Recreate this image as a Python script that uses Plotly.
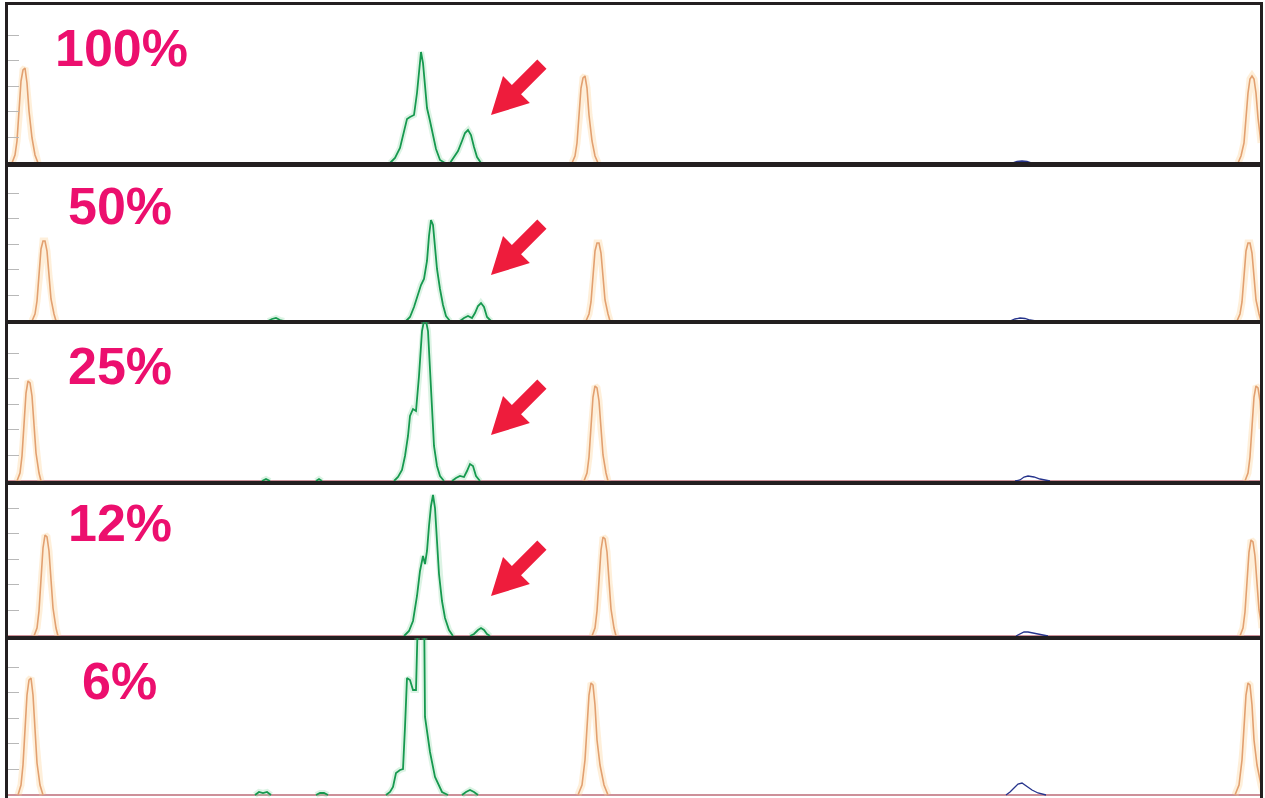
import plotly.graph_objects as go

W, H = 1265, 798

# ---------------- data (x in trace-time units, y = signal height) ----------------
LABELS = ["100%", "50%", "25%", "12%", "6%"]
TICK_HEIGHTS = [25.6, 51.2, 76.8, 102.4, 128.0]

# panel 1 (100%)
P1_ORANGE_X = [12, 15, 17, 19, 21, 23, 25, 27, 29, 32, 35, 38, None,
               572, 575, 577, 579, 581, 583, 585, 587, 589, 592, 595, 598, None,
               1238, 1241, 1244, 1246, 1248, 1250, 1252, 1254, 1256, 1258, 1261]
P1_ORANGE_Y = [0, 8, 22, 50, 82, 93, 95, 80, 52, 25, 8, 0, None,
               0, 7, 20, 45, 75, 85, 87, 75, 48, 22, 7, 0, None,
               0, 7, 20, 45, 70, 84, 87, 84, 70, 45, 20]
P1_GREEN_X = [390, 395, 400, 404, 407, 410, 414, 417, 419, 421, 423, 425, 427, 430, 433, 436, 440, 445, None,
              450, 454, 458, 462, 465, 468, 471, 474, 477, 481]
P1_GREEN_Y = [0, 5, 15, 30, 44, 46, 48, 70, 95, 111, 100, 75, 55, 42, 28, 14, 3, 0, None,
              0, 6, 12, 22, 30, 33, 28, 16, 6, 0]
P1_BLUE_X = [1012, 1017, 1022, 1027, 1032]
P1_BLUE_Y = [0, 1.5, 2, 1.5, 0]

# panel 2 (50%)
P2_ORANGE_X = [32, 35, 37, 39, 41, 43, 45, 47, 49, 51, 54, 56, None,
               586, 589, 591, 593, 595, 597, 599, 601, 603, 605, 608, 610, None,
               1237, 1240, 1242, 1244, 1246, 1248, 1250, 1252, 1254, 1256, 1259, 1261]
P2_ORANGE_Y = [0, 7, 20, 45, 72, 80, 80, 70, 45, 22, 7, 0, None,
               0, 7, 19, 44, 70, 78, 78, 68, 44, 21, 7, 0, None,
               0, 7, 19, 44, 70, 78, 78, 68, 44, 21, 7, 0]
P2_GREEN_X = [268, 272, 276, 280, 284, None,
              406, 410, 414, 418, 421, 424, 427, 429, 431, 433, 435, 437, 440, 443, 446, 450, None,
              460, 464, 468, 472, 475, 478, 481, 484, 487, 491]
P2_GREEN_Y = [0, 2, 3, 1, 0, None,
              0, 4, 14, 28, 36, 42, 60, 85, 101, 96, 72, 52, 32, 16, 5, 0, None,
              0, 3, 5, 3, 8, 15, 18, 14, 4, 0]
P2_BLUE_X = [1010, 1015, 1020, 1025, 1030, 1036]
P2_BLUE_Y = [0, 2, 3, 2.5, 1, 0]

# panel 3 (25%)
P3_ORANGE_X = [17, 20, 22, 24, 26, 28, 30, 32, 34, 36, 39, 41, None,
               584, 587, 589, 591, 593, 595, 597, 599, 601, 603, 606, 608, None,
               1245, 1248, 1250, 1252, 1254, 1256, 1258, 1260, 1262]
P3_ORANGE_Y = [0, 8, 25, 55, 88, 100, 98, 85, 55, 28, 8, 0, None,
               0, 8, 24, 52, 84, 95, 93, 80, 52, 26, 8, 0, None,
               0, 8, 24, 52, 84, 95, 93, 80, 52]
P3_GREEN_X = [262, 266, 270, None, 316, 319, 322, None,
              394, 398, 402, 405, 408, 410, 413, 416, 419, 422, 424, 426, 428, 430, 432, 434, 437, 440, 444, None,
              452, 456, 460, 464, 467, 470, 473, 476, 480]
P3_GREEN_Y = [0, 2, 0, None, 0, 2, 0, None,
              0, 4, 11, 25, 45, 65, 72, 70, 105, 150, 160, 160, 150, 110, 65, 35, 15, 5, 0, None,
              0, 3, 5, 4, 10, 17, 15, 5, 0]
P3_BLUE_X = [1015, 1020, 1024, 1028, 1034, 1040, 1050]
P3_BLUE_Y = [0, 1, 4, 5, 4, 2, 0]

# panel 4 (12%)
P4_ORANGE_X = [34, 37, 39, 41, 43, 45, 47, 49, 51, 53, 56, 58, None,
               592, 595, 597, 599, 601, 603, 605, 607, 609, 611, 614, 616, None,
               1240, 1243, 1245, 1247, 1249, 1251, 1253, 1255, 1257, 1259, 1262]
P4_ORANGE_Y = [0, 8, 25, 55, 88, 101, 99, 85, 55, 28, 8, 0, None,
               0, 8, 25, 54, 86, 99, 97, 84, 54, 27, 8, 0, None,
               0, 8, 24, 52, 84, 96, 94, 80, 52, 26, 8]
P4_GREEN_X = [404, 409, 413, 417, 420, 423, 425, 427, 429, 431, 433, 435, 437, 439, 442, 445, 449, 453, None,
              470, 474, 478, 481, 484, 487, 490]
P4_GREEN_Y = [0, 5, 15, 40, 65, 80, 72, 85, 110, 130, 141, 128, 95, 62, 35, 18, 6, 0, None,
              0, 2, 6, 8, 6, 2, 0]
P4_BLUE_X = [1016, 1020, 1024, 1028, 1034, 1040, 1048]
P4_BLUE_Y = [0, 2, 4, 4, 3, 1.5, 0]

# panel 5 (6%)
P5_ORANGE_X = [18, 21, 23, 25, 27, 29, 31, 33, 35, 37, 40, 43, None,
               578, 582, 585, 587, 589, 591, 593, 595, 597, 600, 604, 608, None,
               1235, 1239, 1242, 1244, 1246, 1248, 1250, 1252, 1254, 1257, 1261, 1264]
P5_ORANGE_Y = [0, 10, 30, 65, 100, 115, 117, 100, 65, 32, 10, 0, None,
               0, 10, 35, 65, 100, 112, 110, 90, 55, 30, 10, 0, None,
               0, 10, 35, 65, 100, 112, 110, 90, 55, 30, 10, 0]
P5_GREEN_X = [255, 259, 263, 267, 271, None, 316, 320, 324, 328, None,
              386, 390, 393, 396, 400, 403, 405, 407, 410, 413, 416, 417, 420, 424, 425, 430, 435, 442, 448, None,
              462, 466, 470, 474, 478]
P5_GREEN_Y = [0, 3, 2, 3, 0, None, 0, 2, 2, 0, None,
              0, 3, 8, 22, 25, 26, 68, 117, 115, 105, 105, 200, 260, 200, 78, 43, 18, 3, 0, None,
              0, 3, 5, 3, 0]
P5_BLUE_X = [1006, 1010, 1014, 1018, 1022, 1026, 1032, 1038, 1046]
P5_BLUE_Y = [0, 3, 7, 11, 12, 9, 5, 2, 0]

ORANGE = [(P1_ORANGE_X, P1_ORANGE_Y), (P2_ORANGE_X, P2_ORANGE_Y), (P3_ORANGE_X, P3_ORANGE_Y),
          (P4_ORANGE_X, P4_ORANGE_Y), (P5_ORANGE_X, P5_ORANGE_Y)]
GREEN = [(P1_GREEN_X, P1_GREEN_Y), (P2_GREEN_X, P2_GREEN_Y), (P3_GREEN_X, P3_GREEN_Y),
         (P4_GREEN_X, P4_GREEN_Y), (P5_GREEN_X, P5_GREEN_Y)]
BLUE = [(P1_BLUE_X, P1_BLUE_Y), (P2_BLUE_X, P2_BLUE_Y), (P3_BLUE_X, P3_BLUE_Y),
        (P4_BLUE_X, P4_BLUE_Y), (P5_BLUE_X, P5_BLUE_Y)]

# ---------------- layout (pixel geometry) ----------------
X_LEFT_PX, X_RIGHT_PX = 8, 1260
PANEL_TOP_PX = [5, 164, 322, 483, 638]
PANEL_BOT_PX = [164, 322, 483, 638, 798]
Y_RANGES = [[-1, 158], [-1, 157], [-2, 159], [-2, 153], [-3, 157]]
LABEL_POS_PX = [(121, 48), (120, 206), (120, 366), (120, 523), (119, 681)]
ARROW_TIPS_PX = [(491, 115), (491, 275), (491, 435), (491, 596)]

C_ORANGE = "#e2a070"
C_ORANGE_GLOW = "rgba(252,210,150,0.35)"
C_GREEN = "#16994f"
C_GREEN_GLOW = "rgba(140,215,165,0.30)"
C_BLUE = "#26348c"
C_BASE = "#9b2335"
C_PINK = "#ec0f6e"
C_ARROW = "#ee1c3c"
C_FRAME = "#231f20"


def py(p):
    return 1 - p / H


def px(p):
    return p / W


fig = go.Figure()

for i in range(5):
    xa = f"x{i+1}" if i else "x"
    ya = f"y{i+1}" if i else "y"
    # baseline
    fig.add_trace(go.Scatter(x=[X_LEFT_PX, X_RIGHT_PX], y=[0, 0], mode="lines",
                             line=dict(color=C_BASE, width=1.2), xaxis=xa, yaxis=ya,
                             hoverinfo="skip"))
    bx, by = BLUE[i]
    fig.add_trace(go.Scatter(x=bx, y=by, mode="lines", line=dict(color=C_BLUE, width=1.3),
                             xaxis=xa, yaxis=ya))
    ox, oy = ORANGE[i]
    fig.add_trace(go.Scatter(x=ox, y=oy, mode="lines", line=dict(color=C_ORANGE_GLOW, width=7),
                             xaxis=xa, yaxis=ya, hoverinfo="skip"))
    fig.add_trace(go.Scatter(x=ox, y=oy, mode="lines", line=dict(color=C_ORANGE, width=1.6),
                             xaxis=xa, yaxis=ya))
    gx, gy = GREEN[i]
    fig.add_trace(go.Scatter(x=gx, y=gy, mode="lines", line=dict(color=C_GREEN_GLOW, width=6),
                             xaxis=xa, yaxis=ya, hoverinfo="skip"))
    fig.add_trace(go.Scatter(x=gx, y=gy, mode="lines", line=dict(color=C_GREEN, width=1.8),
                             xaxis=xa, yaxis=ya))

layout = dict(width=W, height=H, margin=dict(l=0, r=0, t=0, b=0),
              paper_bgcolor="white", plot_bgcolor="white", showlegend=False)

for i in range(5):
    xk = f"xaxis{i+1}" if i else "xaxis"
    yk = f"yaxis{i+1}" if i else "yaxis"
    anchor_y = f"y{i+1}" if i else "y"
    anchor_x = f"x{i+1}" if i else "x"
    xdict = dict(domain=[px(X_LEFT_PX), px(X_RIGHT_PX)], range=[X_LEFT_PX, X_RIGHT_PX],
                 anchor=anchor_y, showgrid=False, zeroline=False, showticklabels=False,
                 ticks="", showline=True, linecolor=C_FRAME, linewidth=1.7, fixedrange=True)
    if i == 4:
        xdict.update(side="top", mirror=False)
    elif i == 0:
        xdict.update(mirror=True, linewidth=3)
    else:
        xdict.update(mirror=True)
    layout[xk] = xdict
    layout[yk] = dict(domain=[py(PANEL_BOT_PX[i]), py(PANEL_TOP_PX[i])], range=Y_RANGES[i],
                      anchor=anchor_x, showgrid=False, zeroline=False, showticklabels=False,
                      ticks="inside", ticklen=11, tickwidth=1, tickcolor="#b8b8b8",
                      tickvals=TICK_HEIGHTS, showline=True, mirror=True,
                      linecolor=C_FRAME, linewidth=3, fixedrange=True)

fig.update_layout(**layout)

# labels
for lab, (lx, ly) in zip(LABELS, LABEL_POS_PX):
    fig.add_annotation(x=px(lx), y=py(ly), xref="paper", yref="paper", text=f"<b>{lab}</b>",
                       showarrow=False, xanchor="center", yanchor="middle",
                       font=dict(family="Liberation Sans, Arial, sans-serif", size=52, color=C_PINK))

# arrows (filled polygons)
ARROW_LEN, HEAD_LEN, HEAD_HALF, SHAFT_HALF = 72, 36, 19, 6.5
d = (0.7071, -0.7071)   # tip -> tail direction (up-right)
n = (0.7071, 0.7071)
for tx, ty in ARROW_TIPS_PX:
    mx, my = tx + HEAD_LEN * d[0], ty + HEAD_LEN * d[1]
    ex, ey = tx + ARROW_LEN * d[0], ty + ARROW_LEN * d[1]
    pts = [(tx, ty),
           (mx + HEAD_HALF * n[0], my + HEAD_HALF * n[1]),
           (mx + SHAFT_HALF * n[0], my + SHAFT_HALF * n[1]),
           (ex + SHAFT_HALF * n[0], ey + SHAFT_HALF * n[1]),
           (ex - SHAFT_HALF * n[0], ey - SHAFT_HALF * n[1]),
           (mx - SHAFT_HALF * n[0], my - SHAFT_HALF * n[1]),
           (mx - HEAD_HALF * n[0], my - HEAD_HALF * n[1])]
    path = "M " + " L ".join(f"{px(a):.5f},{py(b):.5f}" for a, b in pts) + " Z"
    fig.add_shape(type="path", path=path, xref="paper", yref="paper",
                  fillcolor=C_ARROW, line=dict(width=0))

fig.write_html("out.html", config={"displayModeBar": False},
               post_script="document.body.style.margin='0';document.body.style.overflow='hidden';")
